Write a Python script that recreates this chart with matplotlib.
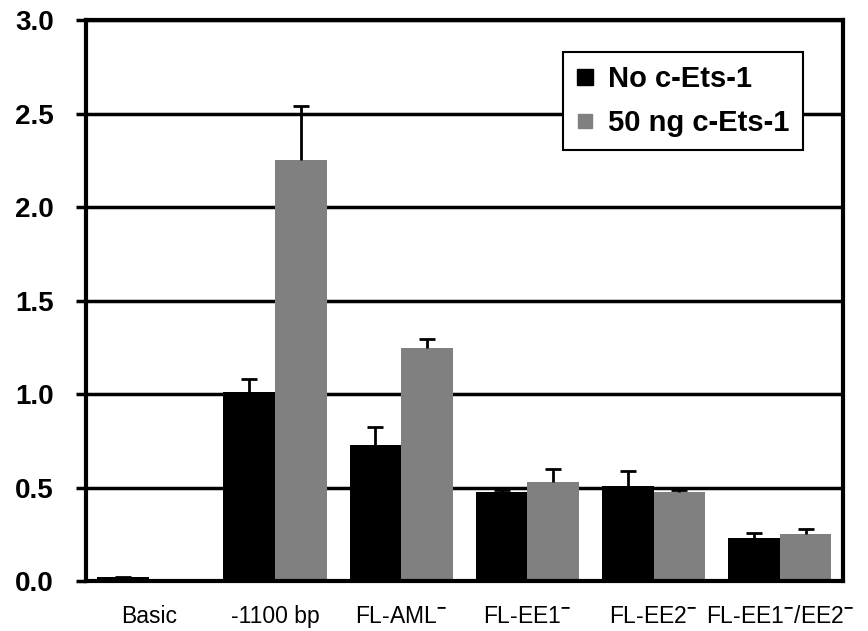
import matplotlib
matplotlib.use("Agg")
import matplotlib.pyplot as plt
from matplotlib.lines import Line2D
import numpy as np

# data
labels = ["Basic", "-1100 bp", r"FL-AML$^{\mathbf{-}}$", r"FL-EE1$^{\mathbf{-}}$",
          r"FL-EE2$^{\mathbf{-}}$", r"FL-EE1$^{\mathbf{-}}$/EE2$^{\mathbf{-}}$"]
no_ets = [0.023, 1.01, 0.73, 0.476, 0.508, 0.23]
no_ets_err = [0.0, 0.07, 0.095, 0.01, 0.08, 0.03]
ets_50 = [0.005, 2.25, 1.245, 0.528, 0.476, 0.25]
ets_50_err = [0.0, 0.29, 0.05, 0.07, 0.01, 0.03]

plt.rcParams['font.family'] = ['Liberation Sans', 'DejaVu Sans']
plt.rcParams['mathtext.fontset'] = 'custom'
plt.rcParams['mathtext.rm'] = 'Liberation Sans'
plt.rcParams['mathtext.bf'] = 'Liberation Sans:bold'

fig = plt.figure(figsize=(8.68, 6.31), dpi=100)
ax = fig.add_axes([0.099, 0.079, 0.872, 0.889])

x = np.arange(len(labels))
w = 0.41
ax.bar(x - w / 2, no_ets, w, color='black', zorder=3)
ax.bar(x + w / 2, ets_50, w, color='#808080', zorder=3)

# upper-only error bars
for xs, ys, es in [(x - w / 2, no_ets, no_ets_err), (x + w / 2, ets_50, ets_50_err)]:
    eb = ax.errorbar(xs, ys, yerr=[np.zeros(len(xs)), es], fmt='none', ecolor='black',
                     elinewidth=2, capsize=6, capthick=2, zorder=4)
    eb[1][0].set_visible(False)  # drop the cap sitting on the bar top

ax.set_xlim(-0.5, len(labels) - 0.5)
ax.set_ylim(0, 3.0)
ticks = np.arange(0, 3.01, 0.5)
ax.set_yticks(ticks)
ax.set_yticklabels([f"{v:.1f}" for v in ticks], fontsize=20, fontweight='bold')
ax.set_xticks(x)
ax.set_xticklabels(labels, fontsize=16.5)
ax.tick_params(axis='x', length=0, pad=17)
ax.tick_params(axis='y', length=7, width=2.5, direction='out', pad=16)

ax.yaxis.grid(True, color='black', linewidth=2.5, zorder=1)
ax.set_axisbelow(True)
for s in ax.spines.values():
    s.set_linewidth(3)
    s.set_zorder(5)

handles = [Line2D([], [], ls='none', marker='s', markersize=12, color='black'),
           Line2D([], [], ls='none', marker='s', markersize=10, color='#808080')]
leg = ax.legend(handles, ['No c-Ets-1', '50 ng c-Ets-1'], loc='upper right',
                bbox_to_anchor=(0.947, 0.943), fancybox=False, framealpha=1,
                edgecolor='black', handlelength=0.6, handletextpad=0.5,
                borderpad=0.45, labelspacing=0.55, borderaxespad=0,
                prop={'size': 21, 'weight': 'bold'})
leg.get_frame().set_linewidth(1.5)
leg.set_zorder(6)

fig.savefig("out.png", dpi=100)
